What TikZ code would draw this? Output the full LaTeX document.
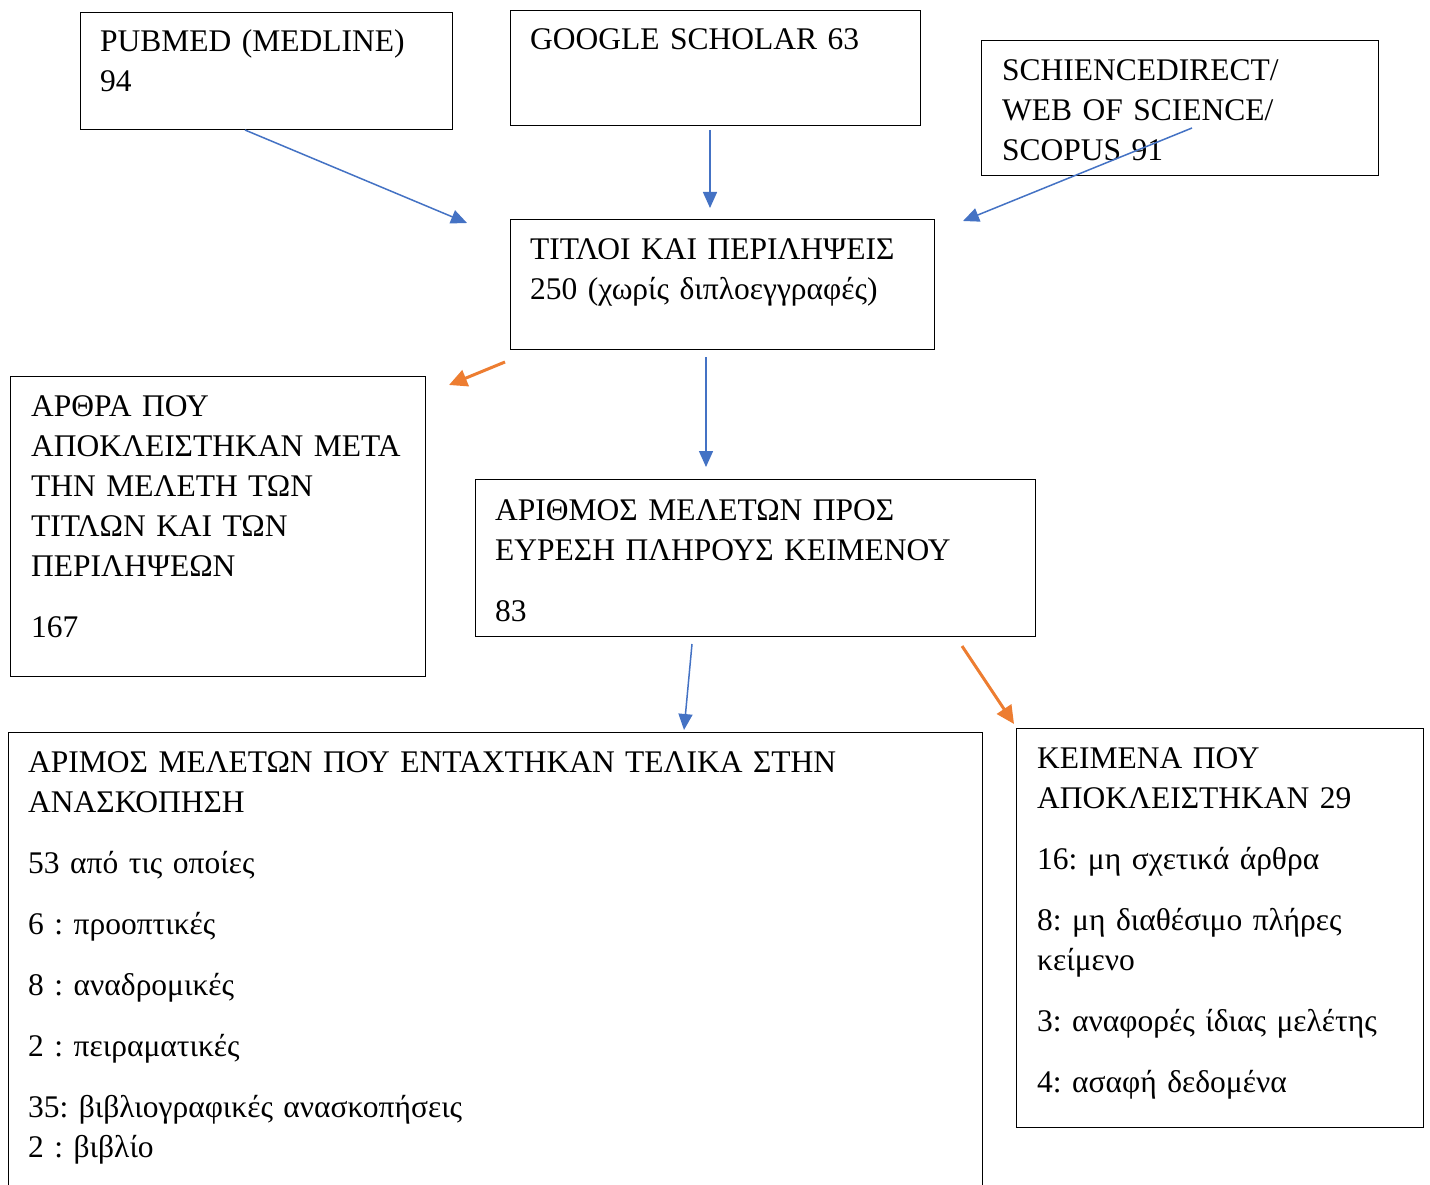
\documentclass[tikz,border=0pt]{standalone}
\usepackage{fontspec}
\setmainfont{Liberation Serif}
\usetikzlibrary{arrows.meta}
\definecolor{arrblue}{HTML}{4472C4}
\definecolor{arrorange}{HTML}{ED7D31}
\frenchspacing
\begin{document}
\begin{tikzpicture}[x=1pt,y=-1pt,
  box/.style={draw=black, line width=1.3pt, rectangle, inner sep=0pt, anchor=north west},
  txt/.style={inner sep=0pt, anchor=base west, align=left, text width=#1,
    font=\fontsize{31.5}{40}\selectfont\frenchspacing},
  txt/.default=900pt,
  barrow/.style={draw=arrblue, line width=1.5pt, -{Triangle[length=16pt,width=14pt]}},
  oarrow/.style={draw=arrorange, line width=3pt, -{Triangle[length=18pt,width=17pt]}}]
\useasboundingbox (0,0) rectangle (1430,1185);
\fill[white] (0,0) rectangle (1430,1185);

% boxes
\node[box, minimum width=372pt, minimum height=117pt] (pub) at (80,12) {};
\node[box, minimum width=410pt, minimum height=115pt] (gs) at (510,10) {};
\node[box, minimum width=397pt, minimum height=135pt] (sd) at (981,40) {};
\node[box, minimum width=424pt, minimum height=130pt] (tit) at (510,219) {};
\node[box, minimum width=415pt, minimum height=300pt] (exc) at (10,376) {};
\node[box, minimum width=560pt, minimum height=157pt] (num) at (475,479) {};
\node[box, minimum width=974pt, minimum height=480pt] (inc) at (8,732) {};
\node[box, minimum width=407pt, minimum height=399pt] (rej) at (1016,728) {};

% texts
\node[txt] (pubt) at (100,52) {PUBMED (MEDLINE)\\94};
\node[txt] (gst) at (530,50) {GOOGLE SCHOLAR 63};
\node[txt] (sdt) at (1002,81) {SCHIENCEDIRECT/\\WEB OF SCIENCE/\\SCOPUS 91};
\node[txt] (titt) at (530,259) {ΤΙΤΛΟΙ ΚΑΙ ΠΕΡΙΛΗΨΕΙΣ\\250 (χωρίς διπλοεγγραφές)};
\node[txt] (exct) at (31,416) {ΑΡΘΡΑ ΠΟΥ\\ΑΠΟΚΛΕΙΣΤΗΚΑΝ ΜΕΤΑ\\ΤΗΝ ΜΕΛΕΤΗ ΤΩΝ\\ΤΙΤΛΩΝ ΚΑΙ ΤΩΝ\\ΠΕΡΙΛΗΨΕΩΝ\\[21pt]167};
\node[txt] (numt) at (495,520) {ΑΡΙΘΜΟΣ ΜΕΛΕΤΩΝ ΠΡΟΣ\\ΕΥΡΕΣΗ ΠΛΗΡΟΥΣ ΚΕΙΜΕΝΟΥ\\[21pt]83};
\node[txt] (inct) at (28,772) {ΑΡΙΜΟΣ ΜΕΛΕΤΩΝ ΠΟΥ ΕΝΤΑΧΤΗΚΑΝ ΤΕΛΙΚΑ ΣΤΗΝ\\ΑΝΑΣΚΟΠΗΣΗ\\[21pt]53 από τις οποίες\\[21pt]6 : προοπτικές\\[21pt]8 : αναδρομικές\\[21pt]2 : πειραματικές\\[21pt]35: βιβλιογραφικές ανασκοπήσεις\\2 : βιβλίο};
\node[txt] (rejt) at (1037,768) {ΚΕΙΜΕΝΑ ΠΟΥ\\ΑΠΟΚΛΕΙΣΤΗΚΑΝ 29\\[21pt]16: μη σχετικά άρθρα\\[21pt]8: μη διαθέσιμο πλήρες\\κείμενο\\[21pt]3: αναφορές ίδιας μελέτης\\[21pt]4: ασαφή δεδομένα};

% connector end points
\coordinate (a1s) at (245,130);  \coordinate (a1e) at (467,223);
\coordinate (a2s) at (710,130);  \coordinate (a2e) at (710,208);
\coordinate (a3s) at (1192,128); \coordinate (a3e) at (963,221);
\coordinate (a4s) at (706,357);  \coordinate (a4e) at (706,467);
\coordinate (a5s) at (692,644);  \coordinate (a5e) at (684,730);
\coordinate (o1s) at (505,362);  \coordinate (o1e) at (449,385);
\coordinate (o2s) at (962,646);  \coordinate (o2e) at (1014,724);

\draw[barrow] (a1s) -- (a1e);
\draw[barrow] (a2s) -- (a2e);
\draw[barrow] (a3s) -- (a3e);
\draw[barrow] (a4s) -- (a4e);
\draw[barrow] (a5s) -- (a5e);
\draw[oarrow] (o1s) -- (o1e);
\draw[oarrow] (o2s) -- (o2e);
\end{tikzpicture}
\end{document}
